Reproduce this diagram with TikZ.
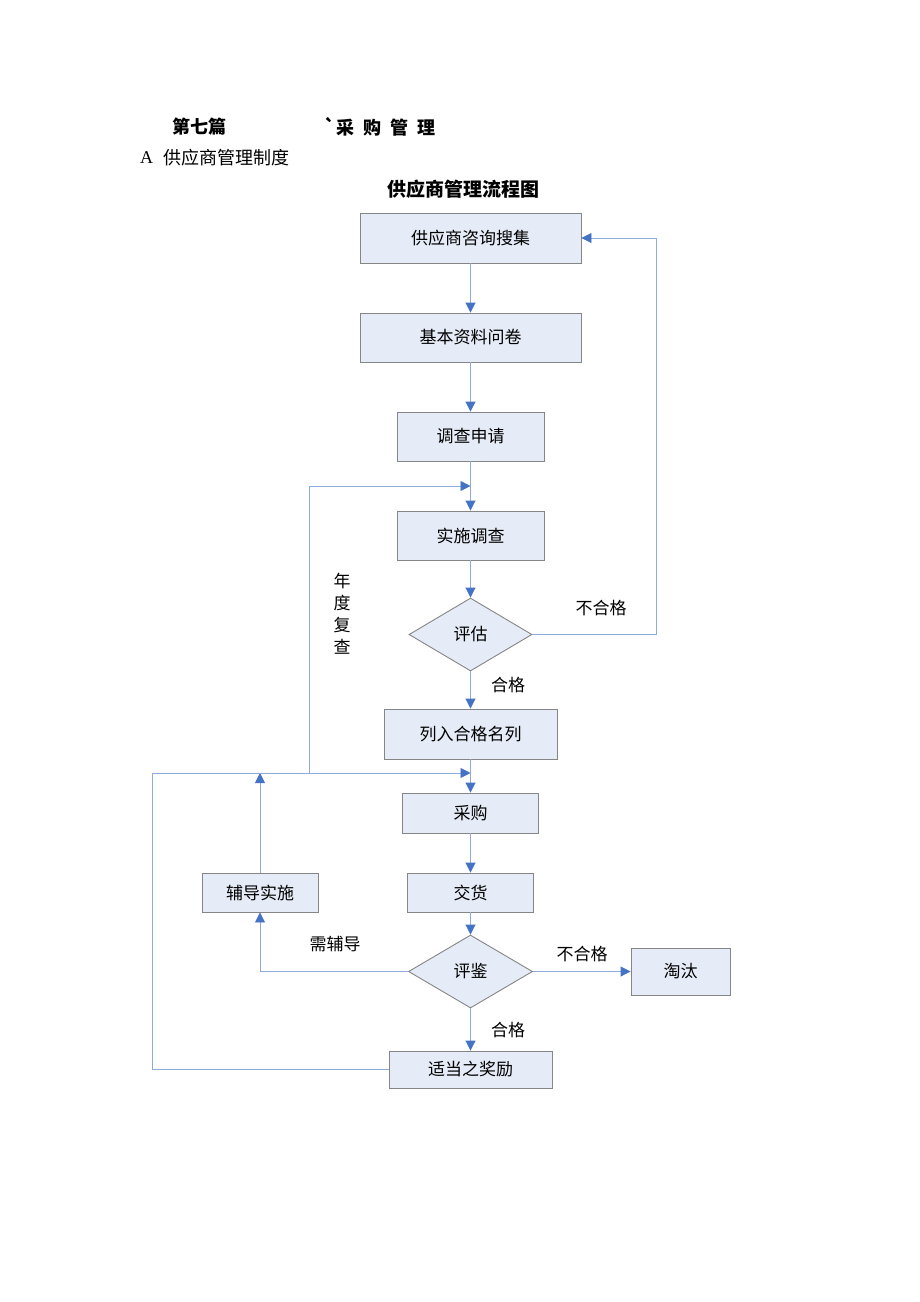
\documentclass[tikz,border=0pt]{standalone}
\usepackage{fontspec}
\setmainfont{Liberation Serif}
\newfontfamily\cjk{Noto Sans CJK SC}
\usetikzlibrary{arrows.meta,shapes.geometric}
\definecolor{boxfill}{HTML}{E6ECF7}
\definecolor{boxline}{HTML}{858585}
\definecolor{connc}{HTML}{8FAADC}
\definecolor{tipc}{HTML}{4472C4}
\begin{document}
\begin{tikzpicture}[x=1pt,y=-1pt,
  box/.style={draw=boxline, fill=boxfill, line width=0.9pt, inner sep=0pt,
    font=\cjk\fontsize{17}{17}\selectfont},
  dia/.style={diamond, draw=boxline, fill=boxfill, line width=0.9pt, inner sep=0pt,
    font=\cjk\fontsize{17}{17}\selectfont},
  conn/.style={draw=connc, line width=0.9pt},
  arr/.style={conn, -{Triangle[length=10pt,width=10pt,color=tipc]}},
  lab/.style={font=\cjk\fontsize{17}{17}\selectfont, inner sep=0pt}]
\useasboundingbox (0,0) rectangle (920,1302);

% header
\node[font=\cjk\bfseries\fontsize{18}{18}\selectfont, inner sep=0pt] (h1) at (199,127) {第七篇};
\node[font=\cjk\bfseries\fontsize{18}{18}\selectfont, inner sep=0pt] (h2) at (380,127) {`采\hspace{5pt} 购\hspace{5pt} 管\hspace{5pt} 理};
\node[anchor=west, font=\fontsize{18}{18}\selectfont, inner sep=0pt] (hA) at (140,158) {A};
\node[anchor=west, font=\cjk\fontsize{18}{18}\selectfont, inner sep=0pt] (hB) at (163,158) {供应商管理制度};
\node[font=\cjk\bfseries\fontsize{19}{19}\selectfont, inner sep=0pt] (ttl) at (463,189) {供应商管理流程图};

% boxes
\node[box, minimum width=221pt, minimum height=50pt] (b1) at (470.5,238) {供应商咨询搜集};
\node[box, minimum width=221pt, minimum height=49pt] (b2) at (470.5,337.5) {基本资料问卷};
\node[box, minimum width=147pt, minimum height=49pt] (b3) at (470.5,436.5) {调查申请};
\node[box, minimum width=147pt, minimum height=49pt] (b4) at (470.5,535.5) {实施调查};
\node[dia, minimum width=123pt, minimum height=73pt] (d1) at (470.5,634.5) {评估};
\node[box, minimum width=173pt, minimum height=50pt] (b5) at (470.5,734) {列入合格名列};
\node[box, minimum width=136pt, minimum height=40pt] (b6) at (470.5,813) {采购};
\node[box, minimum width=126pt, minimum height=39pt] (b7) at (470.5,892.5) {交货};
\node[box, minimum width=116pt, minimum height=39pt] (b8) at (260,892.5) {辅导实施};
\node[dia, minimum width=124pt, minimum height=73pt] (d2) at (470.5,971.5) {评鉴};
\node[box, minimum width=99pt, minimum height=47pt] (b9) at (680.5,971.5) {淘汰};
\node[box, minimum width=163pt, minimum height=37pt] (b10) at (470.5,1069.5) {适当之奖励};

% junction coordinates
\coordinate (j1) at (470.5,486);
\coordinate (j2) at (470.5,773);
\coordinate (k1) at (309,773);
\coordinate (k2) at (260,773);
\coordinate (c1) at (152,773);
\coordinate (c3) at (656,634.5);

% connectors
\draw[arr] (b1) -- (b2);
\draw[arr] (b2) -- (b3);
\draw[arr] (b3) -- (b4);
\draw[arr] (b4) -- (d1);
\draw[arr] (d1) -- (b5);
\draw[arr] (b5) -- (b6);
\draw[arr] (b6) -- (b7);
\draw[arr] (b7) -- (d2);
\draw[arr] (d2) -- (b10);
\draw[arr] (d2.east) -- (b9.west);
\draw[arr] (d2.west) -| (b8.south);
\draw[arr] (b8.north) -- (k2);
\draw[arr] (d1.east) -- (c3) |- (b1.east);
\draw[arr] (b10.west) -| (c1) -- (j2);
\draw[arr] (k1) |- (j1);

% labels
\node[lab] (l1) at (601,608) {不合格};
\node[lab] (l2) at (508,685) {合格};
\node[lab, align=center, font=\cjk\fontsize{17}{22}\selectfont] (l3) at (342,614) {年\\度\\复\\查};
\node[lab] (l4) at (335,944) {需辅导};
\node[lab] (l5) at (582,954) {不合格};
\node[lab] (l6) at (508,1030) {合格};
\end{tikzpicture}
\end{document}
